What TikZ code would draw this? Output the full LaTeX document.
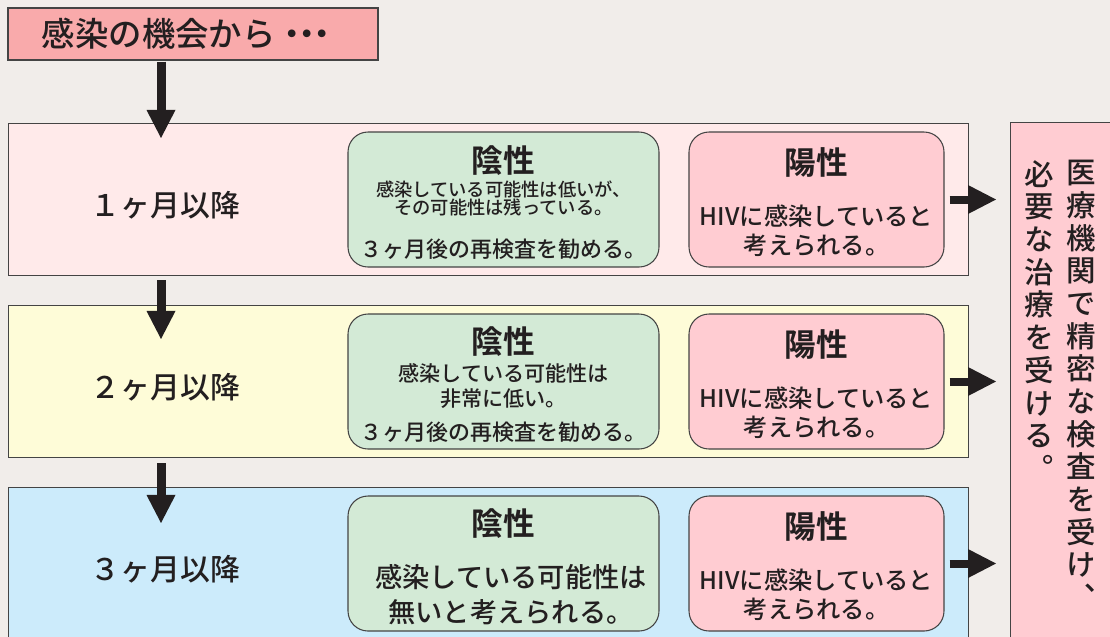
\documentclass[tikz,border=0pt]{standalone}
\usepackage{fontspec}
\setmainfont{Noto Sans CJK JP Medium}[BoldFont=Noto Sans CJK JP Bold]
\newfontfamily\tatefont[RawFeature=+vert]{Noto Sans CJK JP Medium}
\usetikzlibrary{arrows.meta,positioning}
\definecolor{haikeiC}{HTML}{F1EDEA}
\definecolor{kikaiC}{HTML}{F9AAAB}
\definecolor{obiA}{HTML}{FFEAEA}
\definecolor{obiB}{HTML}{FEFCD8}
\definecolor{obiC}{HTML}{CCEBFB}
\definecolor{inseiC}{HTML}{D3EAD6}
\definecolor{youseiC}{HTML}{FFCCD2}
\definecolor{senC}{HTML}{444444}
\definecolor{mojiC}{HTML}{231F20}
\begin{document}
\begin{tikzpicture}[
  text=mojiC,
  obi/.style={draw=senC, line width=0.6pt, anchor=north west,
    minimum width=19.2cm, minimum height=3.04cm},
  insei/.style={draw=senC, line width=0.6pt, fill=inseiC, rounded corners=0.4cm,
    minimum width=6.22cm, minimum height=2.7cm},
  yousei/.style={draw=senC, line width=0.6pt, fill=youseiC, rounded corners=0.4cm,
    minimum width=5.1cm, minimum height=2.7cm},
  midashi/.style={inner sep=0pt, font=\fontsize{18}{18}\selectfont\bfseries},
  tsuki/.style={inner sep=0pt, font=\fontsize{17}{17}\selectfont},
  setsumei/.style={inner sep=0pt, align=center},
  tate/.style={inner sep=0pt, align=center, anchor=north,
    font=\tatefont\fontsize{16.8}{18.6}\selectfont},
  yajirushi/.style={draw=mojiC, line width=0.18cm,
    -{Triangle[width=0.58cm, length=0.56cm, line width=0pt]}},
]
  % 背景
  \useasboundingbox (0,0) rectangle (22.2,12.74);
  \clip (0,0) rectangle (22.2,12.74);
  \fill[haikeiC] (0,0) rectangle (22.2,12.74);
  % 出発点
  \node[draw=senC, line width=0.6pt, fill=kikaiC, minimum width=7.4cm, minimum height=1.04cm,
    font=\fontsize{19}{19}\selectfont] (kikai) at (3.86,12.06)
    {感染の機会から・\kern-0.55em・\kern-0.55em・\hspace*{0.1cm}};
  % 時期ごとの帯
  \node[obi, fill=obiA] (obi1) at (0.16,10.28) {};
  \node[obi, fill=obiB] (obi2) at (0.16,6.64) {};
  \node[obi, fill=obiC] (obi3) at (0.16,3.0) {};
  \node[tsuki] (tsuki1) at ([xshift=3.15cm, yshift=-0.12cm]obi1.west) {１ヶ月以降};
  \node[tsuki] (tsuki2) at ([xshift=3.15cm, yshift=-0.12cm]obi2.west) {２ヶ月以降};
  \node[tsuki] (tsuki3) at ([xshift=3.15cm, yshift=-0.12cm]obi3.west) {３ヶ月以降};
  % 陰性
  \node[insei] (in1) at ([xshift=9.91cm]obi1.west) {};
  \node[midashi] (in1t) at ([yshift=-0.58cm]in1.north) {陰性};
  \node[setsumei, font=\fontsize{10.4}{10.6}\selectfont] (in1b) at ([yshift=-1.34cm]in1.north)
    {感染している可能性は低いが、\\その可能性は残っている。};
  \node[setsumei, font=\fontsize{12.5}{12.5}\selectfont] (in1c) at ([yshift=-2.36cm]in1.north)
    {３ヶ月後の再検査を勧める。};
  \node[insei] (in2) at ([xshift=9.91cm]obi2.west) {};
  \node[midashi] (in2t) at ([yshift=-0.56cm]in2.north) {陰性};
  \node[setsumei, font=\fontsize{12}{14.2}\selectfont] (in2b) at ([yshift=-1.45cm]in2.north)
    {感染している可能性は\\非常に低い。};
  \node[setsumei, font=\fontsize{12.5}{12.5}\selectfont] (in2c) at ([yshift=-2.38cm]in2.north)
    {３ヶ月後の再検査を勧める。};
  \node[insei] (in3) at ([xshift=9.91cm]obi3.west) {};
  \node[midashi] (in3t) at ([yshift=-0.56cm]in3.north) {陰性};
  \node[setsumei, font=\fontsize{15.5}{19.9}\selectfont] (in3b) at ([xshift=0.15cm, yshift=-1.99cm]in3.north)
    {感染している可能性は\\無いと考えられる。};
  % 医療機関
  \node[draw=senC, line width=0.6pt, fill=youseiC, anchor=north west,
    minimum width=2.6cm, minimum height=10.6cm] (iryou) at (20.2,10.3) {};
  \node[tate] (tate1) at ([xshift=1.42cm, yshift=-0.76cm]iryou.north west)
    {医\\療\\機\\関\\で\\精\\密\\な\\検\\査\\を\\受\\け\\、};
  \node[tate] (tate2) at ([xshift=0.58cm, yshift=-0.76cm]iryou.north west)
    {必\\要\\な\\治\\療\\を\\受\\け\\る\\。};
  % 陽性
  \foreach \i in {1,2,3} {
    \node[yousei] (you\i) at ([xshift=16.17cm]obi\i.west) {};
    \node[midashi] (you\i t) at ([yshift=-0.62cm]you\i.north) {陽性};
    \node[setsumei, font=\fontsize{13.8}{16.5}\selectfont] (you\i b) at ([yshift=-1.98cm]you\i.north)
      {HIVに感染していると\\考えられる。};
    \draw[yajirushi, line width=0.16cm] ([xshift=0.1cm]you\i.east) -- ([xshift=-0.28cm]you\i.east -| iryou.west);
  }
  % 矢印
  \coordinate (yaX) at (3.22,0);
  \draw[yajirushi] ([yshift=-0.02cm]yaX |- kikai.south) -- ([yshift=-0.3cm]yaX |- obi1.north);
  \draw[yajirushi] ([yshift=-0.08cm]yaX |- obi1.south) -- ([yshift=-0.68cm]yaX |- obi2.north);
  \draw[yajirushi] ([yshift=-0.1cm]yaX |- obi2.south) -- ([yshift=-0.72cm]yaX |- obi3.north);
\end{tikzpicture}
\end{document}
